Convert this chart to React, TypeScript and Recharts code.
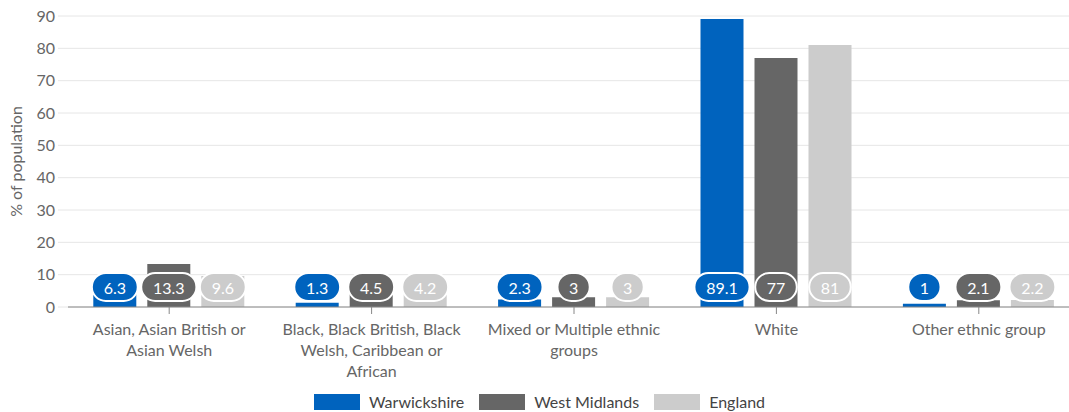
import React from 'react';
import { BarChart, Bar, XAxis, YAxis, CartesianGrid, LabelList, Legend, Text } from 'recharts';

const categories = [
  'Asian, Asian British or Asian Welsh',
  'Black, Black British, Black Welsh, Caribbean or African',
  'Mixed or Multiple ethnic groups',
  'White',
  'Other ethnic group',
];
const warwickshire = [6.3, 1.3, 2.3, 89.1, 1];
const westMidlands = [13.3, 4.5, 3, 77, 2.1];
const england = [9.6, 4.2, 3, 81, 2.2];
const yTicks = [0, 10, 20, 30, 40, 50, 60, 70, 80, 90];

const series = [
  { key: 'warwickshire', name: 'Warwickshire', color: '#0063BE' },
  { key: 'westMidlands', name: 'West Midlands', color: '#666666' },
  { key: 'england', name: 'England', color: '#CCCCCC' },
];

const data = categories.map((c, i) => ({
  category: c,
  warwickshire: warwickshire[i],
  westMidlands: westMidlands[i],
  england: england[i],
}));

const FONT = 'Lato, "Open Sans", sans-serif';

const textWidth = (s: string) => {
  let w = 0;
  for (const ch of s) w += ch === '.' ? 4.3 : 9.3;
  return w;
};

const makePill = (color: string) => (props: any) => {
  const { x, y, width, height, value } = props;
  const cx = x + width / 2;
  const cy = y + height - 20;
  const label = String(value);
  const w = textWidth(label) + 23;
  const h = 28;
  return (
    <g>
      <rect x={cx - w / 2} y={cy - h / 2} width={w} height={h} rx={14} ry={14} fill={color} stroke="#ffffff" strokeWidth={2} />
      <text x={cx} y={cy} textAnchor="middle" dominantBaseline="central" fill="#ffffff" fontSize={16} fontFamily={FONT}>
        {label}
      </text>
    </g>
  );
};

const XTick = (props: any) => {
  const { x, y, payload } = props;
  return (
    <Text
      x={x}
      y={y + 8}
      width={188}
      textAnchor="middle"
      verticalAnchor="start"
      lineHeight={21}
      fill="#666666"
      fontSize={16}
      fontFamily={FONT}
      style={{ fontFamily: FONT, fontSize: 16 }}
    >
      {payload.value}
    </Text>
  );
};

const LegendContent = () => (
  <div style={{ display: 'flex', justifyContent: 'center', alignItems: 'center', fontFamily: FONT, fontSize: 16, color: '#444444', marginTop: 10, marginLeft: 14 }}>
    {series.map((s) => (
      <div key={s.key} style={{ display: 'flex', alignItems: 'center', marginRight: 15 }}>
        <div style={{ width: 46, height: 16, background: s.color, marginRight: 9 }} />
        <span>{s.name}</span>
      </div>
    ))}
  </div>
);

export default function App() {
  return (
    <div style={{ position: 'absolute', left: 0, top: 0, width: 1069, height: 412, overflow: 'hidden', background: '#fff' }}>
      <BarChart
        width={1080}
        height={412}
        data={data}
        margin={{ top: 16, right: 0, left: 0, bottom: 0 }}
        barCategoryGap="12.5%"
        barGap={11}
      >
        <CartesianGrid vertical={false} stroke="#e6e6e6" />
        <XAxis
          dataKey="category"
          interval={0}
          height={75}
          tick={<XTick />}
          tickLine={{ stroke: '#888888' }}
          tickSize={7}
          axisLine={{ stroke: '#888888' }}
        />
        <YAxis
          domain={[0, 90]}
          ticks={yTicks}
          width={68}
          axisLine={false}
          tickLine={{ stroke: '#e6e6e6' }}
          tickSize={10}
          tickMargin={3}
          tick={{ fill: '#666666', fontSize: 16, fontFamily: FONT }}
          label={{ value: '% of population', angle: -90, position: 'insideLeft', offset: 16, style: { textAnchor: 'middle', fill: '#666666', fontSize: 16, fontFamily: FONT } }}
        />
        <Legend verticalAlign="bottom" height={30} content={<LegendContent />} />
        {series.map((s) => (
          <Bar key={s.key} dataKey={s.key} name={s.name} fill={s.color} isAnimationActive={false}>
            <LabelList dataKey={s.key} content={makePill(s.color)} />
          </Bar>
        ))}
      </BarChart>
    </div>
  );
}
